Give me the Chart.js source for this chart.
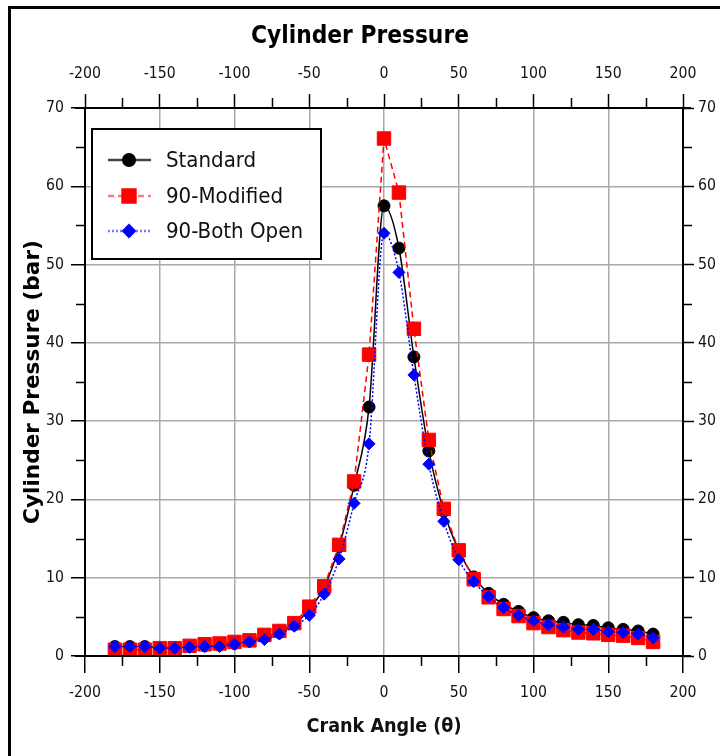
<!DOCTYPE html>
<html><head><meta charset="utf-8">
<script src="https://cdn.jsdelivr.net/npm/chart.js@4.4.1/dist/chart.umd.min.js"></script>
<style>
html,body{margin:0;padding:0;background:#fff;overflow:hidden;}
#wrap{position:relative;width:720px;height:756px;overflow:hidden;}
#frame{position:absolute;left:8px;top:6px;width:800px;height:800px;border-left:3px solid #000;border-top:3px solid #000;}
canvas{position:absolute;left:0;top:0;}
</style></head><body>
<div id="wrap"><div id="frame"></div><canvas id="c" width="720" height="756"></canvas></div>
<script>
// ---- data ----
const crankAngles = [-180,-170,-160,-150,-140,-130,-120,-110,-100,-90,-80,-70,-60,-50,-40,-30,-20,-10,0,10,20,30,40,50,60,70,80,90,100,110,120,130,140,150,160,170,180];
const standard    = [1.2,1.2,1.2,1.1,1.1,1.2,1.3,1.4,1.6,1.9,2.4,3.0,4.0,6.0,8.8,14.0,21.8,31.8,57.5,52.1,38.2,26.2,18.5,13.5,10.1,8.0,6.6,5.7,4.9,4.5,4.3,4.0,3.9,3.6,3.4,3.2,2.8];
const modified90  = [0.8,0.8,0.8,1.0,1.0,1.3,1.5,1.6,1.8,2.0,2.7,3.2,4.2,6.3,8.9,14.2,22.3,38.5,66.1,59.2,41.8,27.6,18.8,13.5,9.8,7.5,6.0,5.1,4.2,3.7,3.3,3.0,2.9,2.7,2.6,2.3,1.8];
const bothOpen90  = [1.2,1.2,1.2,1.0,1.0,1.1,1.2,1.2,1.5,1.8,2.1,2.8,3.8,5.2,7.9,12.4,19.5,27.1,54.0,49.0,35.9,24.5,17.2,12.3,9.5,7.6,6.2,5.2,4.5,4.0,3.7,3.4,3.4,3.1,3.0,2.8,2.3];
const seriesNames = ['Standard','90-Modified','90-Both Open'];
const xRange = [-200, 200];
const yRange = [0, 70];
const xStep = 50, yStep = 10;
const xMinorTicks = [-175,-125,-75,-25,25,75,125,175];
const yMinorTicks = [5,15,25,35,45,55,65];
const titleText = 'Cylinder Pressure';
const xTitleText = 'Crank Angle (\u03b8)';
const yTitleText = 'Cylinder Pressure (bar)';

// ---- fonts ----
function fontExists(name){
  const c=document.createElement('canvas').getContext('2d');
  const t='abcdefghijklmnopqrstuvwxyzABCDEFGHIJ0123456789';
  c.font='40px monospace'; const w1=c.measureText(t).width;
  c.font='40px "'+name+'", monospace'; const w2=c.measureText(t).width;
  c.font='40px serif'; const w3=c.measureText(t).width;
  c.font='40px "'+name+'", serif'; const w4=c.measureText(t).width;
  return w1!==w2 || w3!==w4;
}
const narrowName = ['Liberation Sans Narrow','Arial Narrow','DejaVu Sans Condensed','Roboto Condensed'].find(fontExists) || 'Liberation Sans';
const NARROW = '"'+narrowName+'", "Liberation Sans", sans-serif';
const WIDE = '"DejaVu Sans", Verdana, sans-serif';
const mctx = document.createElement('canvas').getContext('2d');
function fitSize(text, weight, family, targetW){
  mctx.font = weight+' 100px '+family;
  return 100*targetW/mctx.measureText(text).width;
}
const titleSize  = fitSize(titleText,'bold',NARROW,218);
const tickSize   = fitSize('-150','normal',NARROW,32);
const xTitleSize = fitSize(xTitleText,'bold',NARROW,155);
const legendSize = fitSize('90-Both Open','normal',NARROW,137);
const yTitleSize = fitSize(yTitleText,'bold',WIDE,284);

const titlePadTop = 37 - 0.6*titleSize;
const titleBlock = titlePadTop + 1.2*titleSize;
const tickHalf = 0.6*tickSize;

const toXY = arr => crankAngles.map((a,i)=>({x:a, y:arr[i]}));

const GRID = '#a9a9a9';
function xGridColor(ctx){ const v = ctx.tick && ctx.tick.value; return (v===xRange[0]||v===xRange[1]) ? 'rgba(0,0,0,0)' : GRID; }
function yGridColor(ctx){ const v = ctx.tick && ctx.tick.value; return (v===yRange[0]||v===yRange[1]) ? 'rgba(0,0,0,0)' : GRID; }

const tickFont = {family: NARROW, size: tickSize};
const borderOpt = {display:true, color:'#000', width:2};

const minorTicksPlugin = {
  id:'minorTicks',
  afterDraw(chart){
    const c = chart.ctx, a = chart.chartArea;
    const sx = chart.scales.x, sy = chart.scales.y;
    c.save(); c.strokeStyle='#000'; c.lineWidth=1.5;
    c.beginPath();
    xMinorTicks.forEach(v=>{
      const px = Math.round(sx.getPixelForValue(v))+0.5;
      c.moveTo(px, a.bottom); c.lineTo(px, a.bottom+10);
      c.moveTo(px, a.top); c.lineTo(px, a.top-10);
    });
    yMinorTicks.forEach(v=>{
      const py = Math.round(sy.getPixelForValue(v))+0.5;
      c.moveTo(a.left, py); c.lineTo(a.left-9, py);
      c.moveTo(a.right, py); c.lineTo(a.right+9, py);
    });
    c.stroke();
    c.lineWidth=2; c.beginPath();
    c.moveTo(a.left-10, a.bottom); c.lineTo(a.right+8, a.bottom);
    c.moveTo(a.left-10, a.top); c.lineTo(a.right+8, a.top);
    c.stroke();
    c.restore();
  }
};

const legendPlugin = {
  id:'boxLegend',
  afterDatasetsDraw(chart){
    const c = chart.ctx;
    const bx=92, by=129, bw=229, bh=130;
    c.save();
    c.fillStyle='#fff'; c.fillRect(bx,by,bw,bh);
    c.strokeStyle='#000'; c.lineWidth=2; c.strokeRect(bx,by,bw,bh);
    const rows=[160,196,231];
    chart.data.datasets.forEach((ds,i)=>{
      const y=rows[i];
      c.save();
      c.strokeStyle = ds.legendLine; c.lineWidth = 2.5;
      c.setLineDash(ds.borderDash||[]);
      c.beginPath(); c.moveTo(108,y); c.lineTo(151,y); c.stroke();
      c.restore();
      c.fillStyle = ds.pointBackgroundColor; c.strokeStyle = ds.pointBorderColor;
      Chart.helpers.drawPoint(c, {pointStyle: ds.pointStyle, radius: ds.pointRadius, rotation:0, borderWidth:1}, 129, y);
      c.fillStyle='#111'; c.font = legendSize+'px '+NARROW;
      c.textBaseline='middle'; c.textAlign='left';
      c.fillText(ds.label, 166, y+1);
    });
    c.restore();
  }
};

new Chart(document.getElementById('c'), {
  type:'line',
  data:{
    datasets:[
      {label:seriesNames[0], data:toXY(standard), borderColor:'#000', borderWidth:1.5, legendLine:'#444',
       pointStyle:'circle', pointRadius:6, pointBackgroundColor:'#000', pointBorderColor:'#000', pointBorderWidth:1,
       cubicInterpolationMode:'monotone', order:3},
      {label:seriesNames[1], data:toXY(modified90), borderColor:'#ff0000', borderWidth:1.5, borderDash:[6,4], legendLine:'#ff7a7a',
       pointStyle:'rect', pointRadius:9.5, pointBackgroundColor:'#ff0000', pointBorderColor:'#ff0000', pointBorderWidth:1,
       tension:0, order:2},
      {label:seriesNames[2], data:toXY(bothOpen90), borderColor:'#0000ff', borderWidth:1.5, borderDash:[2,2], legendLine:'#7a7aff',
       pointStyle:'rectRot', pointRadius:6, pointBackgroundColor:'#0000ff', pointBorderColor:'#0000ff', pointBorderWidth:1,
       cubicInterpolationMode:'monotone', order:1}
    ]
  },
  options:{
    responsive:false, animation:false, devicePixelRatio:1,
    layout:{padding:0},
    plugins:{
      legend:{display:false},
      tooltip:{enabled:false},
      title:{display:true, text:titleText, color:'#000',
        font:{family:NARROW, size:titleSize, weight:'bold', lineHeight:1.2},
        padding:{top:titlePadTop, bottom:0}}
    },
    scales:{
      x:{type:'linear', position:'bottom', min:xRange[0], max:xRange[1],
        ticks:{stepSize:xStep, autoSkip:false, maxRotation:0, font:tickFont, color:'#111', padding:Math.max(2, 693-656-17-tickHalf)},
        grid:{color:xGridColor, lineWidth:1.5, tickColor:'#000', tickWidth:1.5, tickLength:17, drawTicks:true},
        border:borderOpt,
        title:{display:true, text:xTitleText, color:'#111', font:{family:NARROW, size:xTitleSize, weight:'bold', lineHeight:1.2},
          padding:{top:0, bottom:756-727-0.6*xTitleSize}},
        afterFit:s=>{s.height=100;}},
      x2:{type:'linear', position:'top', min:xRange[0], max:xRange[1],
        ticks:{stepSize:xStep, autoSkip:false, maxRotation:0, font:tickFont, color:'#111', padding:Math.max(2, 108-14-74-tickHalf)},
        grid:{drawOnChartArea:false, tickColor:'#000', tickWidth:1.5, tickLength:14},
        border:borderOpt,
        afterFit:s=>{s.height=108-titleBlock;}},
      y:{type:'linear', position:'left', min:yRange[0], max:yRange[1],
        ticks:{stepSize:yStep, autoSkip:false, font:tickFont, color:'#111', padding:7},
        grid:{color:yGridColor, lineWidth:1.5, tickColor:'#000', tickWidth:1.5, tickLength:14},
        border:borderOpt,
        title:{display:true, text:yTitleText, color:'#000', font:{family:WIDE, size:yTitleSize, weight:'bold', lineHeight:1.2},
          padding:{top:33-0.6*yTitleSize, bottom:0}},
        afterFit:s=>{s.width=85;}},
      y2:{type:'linear', position:'right', min:yRange[0], max:yRange[1],
        ticks:{stepSize:yStep, autoSkip:false, font:tickFont, color:'#111', padding:4},
        grid:{drawOnChartArea:false, tickColor:'#000', tickWidth:1.5, tickLength:11},
        border:borderOpt,
        afterFit:s=>{s.width=37;}}
    }
  },
  plugins:[minorTicksPlugin, legendPlugin]
});
</script>
</body></html>
